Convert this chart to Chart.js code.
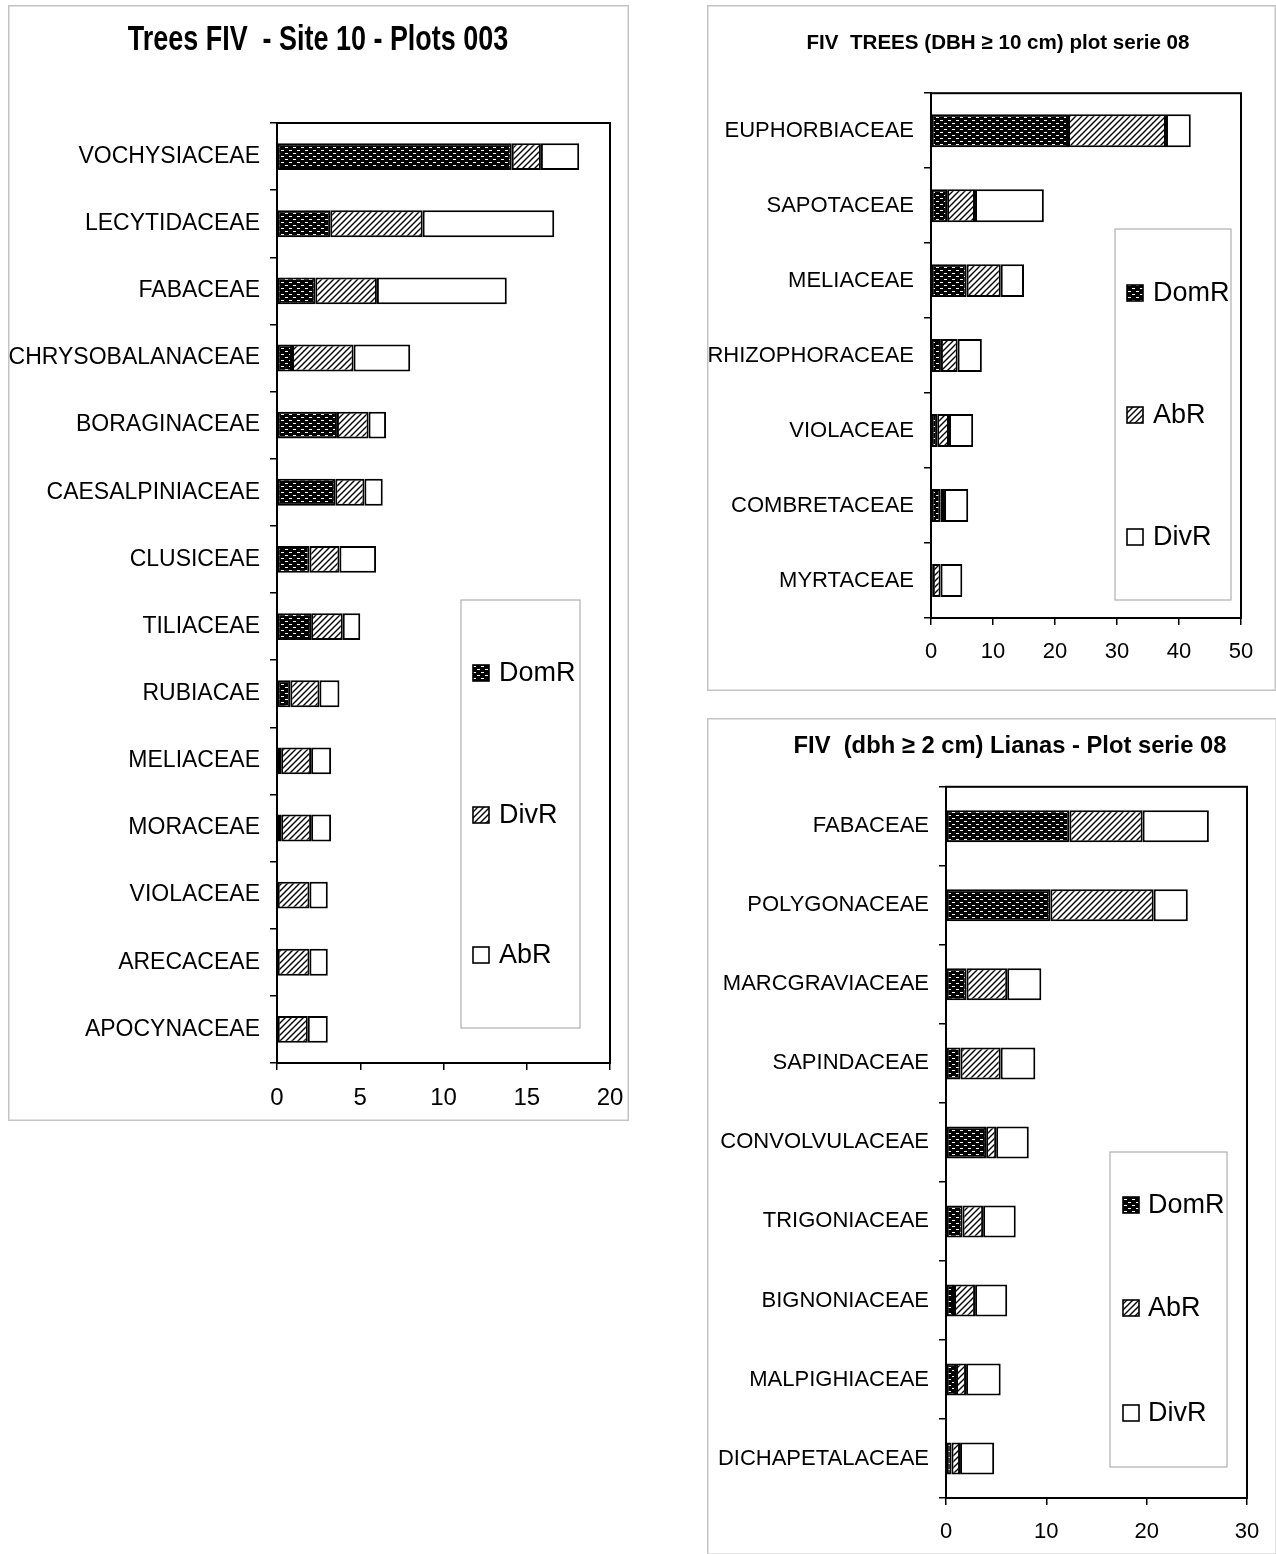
<!DOCTYPE html>
<html>
<head>
<meta charset="utf-8">
<script src="https://cdn.jsdelivr.net/npm/chart.js@4.4.1/dist/chart.umd.min.js"></script>
<style>
  html,body{margin:0;padding:0;background:#fff;}
  body{width:1276px;height:1554px;position:relative;overflow:hidden;}
  canvas{position:absolute;}
</style>
</head>
<body>
<canvas id="leftChart" width="621" height="1116" style="left:8px;top:5px"></canvas>
<canvas id="treesChart" width="569" height="686" style="left:707px;top:5px"></canvas>
<canvas id="lianasChart" width="570" height="837" style="left:707px;top:718px"></canvas>
<script>
// Site 10 - Plots 003 (trees)
const siteFamilies = ['VOCHYSIACEAE','LECYTIDACEAE','FABACEAE','CHRYSOBALANACEAE','BORAGINACEAE','CAESALPINIACEAE','CLUSICEAE','TILIACEAE','RUBIACAE','MELIACEAE','MORACEAE','VIOLACEAE','ARECACEAE','APOCYNACEAE'];
const siteDomR = [14.1, 3.2, 2.3, 0.9, 3.6, 3.5, 1.95, 2.05, 0.8, 0.25, 0.25, 0, 0, 0];
const siteDivR = [1.75, 5.55, 3.7, 3.7, 1.9, 1.75, 1.8, 1.9, 1.75, 1.8, 1.8, 1.95, 1.95, 1.85];
const siteAbR  = [2.3, 7.9, 7.8, 3.4, 1.05, 1.1, 2.2, 1.05, 1.2, 1.2, 1.2, 1.1, 1.1, 1.2];
const siteTicks = [0, 5, 10, 15, 20];

// plot serie 08, trees DBH >= 10 cm
const treeFamilies = ['EUPHORBIACEAE','SAPOTACEAE','MELIACEAE','RHIZOPHORACEAE','VIOLACEAE','COMBRETACEAE','MYRTACEAE'];
const treeDomR = [22.1, 2.6, 5.75, 1.6, 1.0, 1.5, 0.3];
const treeAbR  = [15.8, 4.5, 5.5, 2.7, 1.9, 0.6, 1.25];
const treeDivR = [4.0, 11.1, 3.75, 3.9, 3.9, 3.9, 3.5];
const treeTicks = [0, 10, 20, 30, 40, 50];

// plot serie 08, lianas dbh >= 2 cm
const lianaFamilies = ['FABACEAE','POLYGONACEAE','MARCGRAVIACEAE','SAPINDACEAE','CONVOLVULACEAE','TRIGONIACEAE','BIGNONIACEAE','MALPIGHIACEAE','DICHAPETALACEAE'];
const lianaDomR = [12.3, 10.4, 2.05, 1.45, 4.0, 1.65, 0.8, 1.0, 0.55];
const lianaAbR  = [7.3, 10.3, 4.05, 4.0, 1.0, 2.05, 2.1, 1.0, 0.85];
const lianaDivR = [6.6, 3.4, 3.4, 3.45, 3.25, 3.25, 3.2, 3.45, 3.4];
const lianaTicks = [0, 10, 20, 30];

const SANS = "'Liberation Sans', Arial, sans-serif";

function dotsPattern(){
  const c = document.createElement('canvas'); c.width = 8; c.height = 6;
  const g = c.getContext('2d');
  g.fillStyle = '#000'; g.fillRect(0,0,8,6);
  g.fillStyle = '#fff'; g.fillRect(1,1,3,1); g.fillRect(5,4,3,1);
  return g.createPattern(c, 'repeat');
}
function hatchPattern(){
  const c = document.createElement('canvas'); c.width = 6; c.height = 6;
  const g = c.getContext('2d');
  g.fillStyle = '#fff'; g.fillRect(0,0,6,6);
  g.strokeStyle = '#000'; g.lineWidth = 1.4;
  g.beginPath();
  g.moveTo(0,6); g.lineTo(6,0);
  g.moveTo(-3,3); g.lineTo(3,-3);
  g.moveTo(3,9); g.lineTo(9,3);
  g.stroke();
  return g.createPattern(c, 'repeat');
}
// fill goes by stack position (dots, hatch, white), not by series name
const FILLS = [dotsPattern(), hatchPattern(), '#fff'];

const framePlugin = {
  id: 'frame',
  beforeDraw(chart){
    const g = chart.ctx;
    g.save();
    g.fillStyle = '#fff'; g.fillRect(0,0,chart.width,chart.height);
    g.strokeStyle = '#c4c4c4'; g.lineWidth = 1.5;
    g.strokeRect(0.75,0.75,chart.width-1.5,chart.height-1.5);
    g.restore();
  },
  afterDraw(chart){
    const a = chart.chartArea, g = chart.ctx;
    g.save(); g.strokeStyle = '#000'; g.lineWidth = 2;
    g.strokeRect(a.left, a.top, a.right-a.left, a.bottom-a.top);
    g.restore();
  }
};

// the titles in the original are set in a condensed bold face; squeeze the
// chart.js title horizontally and move it to where it sat
const narrowTitle = {
  id: 'narrowTitle',
  afterLayout(chart, args, o){
    const t = chart.titleBlock;
    if (!t || t._narrow) return;
    const orig = t.draw.bind(t);
    t.draw = function(area){
      const g = this.ctx, c = (this.left + this.right) / 2;
      g.save(); g.translate(o.x, 0); g.scale(o.k, 1); g.translate(-c, 0);
      orig(area);
      g.restore();
    };
    t._narrow = true;
  }
};

const boxLegend = {
  id: 'boxLegend',
  afterDraw(chart, args, o){
    const g = chart.ctx;
    g.save();
    g.strokeStyle = '#b0b0b0'; g.lineWidth = 1.2;
    g.strokeRect(o.x, o.y, o.w, o.h);
    chart.data.datasets.forEach((d,i)=>{
      const y = o.rows[i];
      g.fillStyle = FILLS[i];
      g.fillRect(o.mx, y-8, 16, 16);
      g.strokeStyle = '#000'; g.lineWidth = 1.6;
      g.strokeRect(o.mx, y-8, 16, 16);
      g.fillStyle = '#000'; g.font = o.size + 'px ' + SANS;
      g.textBaseline = 'middle'; g.textAlign = 'left';
      g.fillText(d.label, o.tx, y+1);
    });
    g.restore();
  }
};

function makeChart(id, title, cats, names, values, ticks, L){
  const ctx = document.getElementById(id).getContext('2d');
  return new Chart(ctx, {
    type: 'bar',
    data: {
      labels: cats,
      datasets: names.map((n,i)=>({
        label: n, data: values[i], backgroundColor: FILLS[i],
        borderColor: '#000', borderWidth: 2, borderSkipped: false,
        barPercentage: L.bar, categoryPercentage: 1
      }))
    },
    options: {
      indexAxis: 'y', responsive: false, animation: false,
      layout: { padding: { left: 0, right: L.padR, top: 0, bottom: 0 } },
      plugins: {
        legend: { display: false }, tooltip: { enabled: false },
        title: { display: true, text: title, color: '#000',
          font: { family: SANS, size: L.titleSize, weight: 'bold' },
          padding: { top: L.titleTop, bottom: L.titleBottom } },
        narrowTitle: { x: L.titleX, k: L.titleK },
        boxLegend: L.legend
      },
      scales: {
        x: {
          stacked: true, min: ticks[0], max: ticks[ticks.length-1],
          ticks: { stepSize: ticks[1]-ticks[0], color: '#000', font: { family: SANS, size: L.tickSize }, padding: 14 },
          grid: { drawOnChartArea: false, color: '#000', tickLength: 7, lineWidth: 1.5 },
          border: { color: '#000', width: 2 },
          afterFit: s => { s.height = L.xH; s.paddingLeft = 0; s.paddingRight = 0; }
        },
        y: {
          stacked: true,
          ticks: { color: '#000', font: { family: SANS, size: L.catSize }, padding: 10 },
          grid: { drawOnChartArea: false, offset: true, color: '#000', tickLength: 7, lineWidth: 1.5 },
          border: { color: '#000', width: 2 },
          afterFit: s => { s.width = L.yW; }
        }
      }
    },
    plugins: [framePlugin, narrowTitle, boxLegend]
  });
}

makeChart('leftChart', 'Trees FIV  - Site 10 - Plots 003', siteFamilies,
  ['DomR','DivR','AbR'], [siteDomR, siteDivR, siteAbR], siteTicks,
  { yW: 269, padR: 19, xH: 58, titleSize: 35, titleTop: 14, titleBottom: 62, titleX: 310, titleK: 0.77,
    bar: 0.40, catSize: 23, tickSize: 24,
    legend: { x: 453, y: 595, w: 119, h: 428, rows: [668, 810, 950], mx: 465, tx: 491, size: 27 } });

makeChart('treesChart', 'FIV  TREES (DBH \u2265 10 cm) plot serie 08', treeFamilies,
  ['DomR','AbR','DivR'], [treeDomR, treeAbR, treeDivR], treeTicks,
  { yW: 224, padR: 35, xH: 73, titleSize: 21, titleTop: 26, titleBottom: 37, titleX: 291, titleK: 0.98,
    bar: 0.44, catSize: 22, tickSize: 22,
    legend: { x: 408, y: 224, w: 116, h: 371, rows: [288, 410, 532], mx: 420, tx: 446, size: 27 } });

makeChart('lianasChart', 'FIV  (dbh \u2265 2 cm) Lianas - Plot serie 08', lianaFamilies,
  ['DomR','AbR','DivR'], [lianaDomR, lianaAbR, lianaDivR], lianaTicks,
  { yW: 239, padR: 30, xH: 57, titleSize: 24, titleTop: 14, titleBottom: 26, titleX: 303, titleK: 0.99,
    bar: 0.405, catSize: 22, tickSize: 22,
    legend: { x: 403, y: 434, w: 117, h: 315, rows: [487, 590, 695], mx: 416, tx: 441, size: 27 } });
</script>
</body>
</html>
